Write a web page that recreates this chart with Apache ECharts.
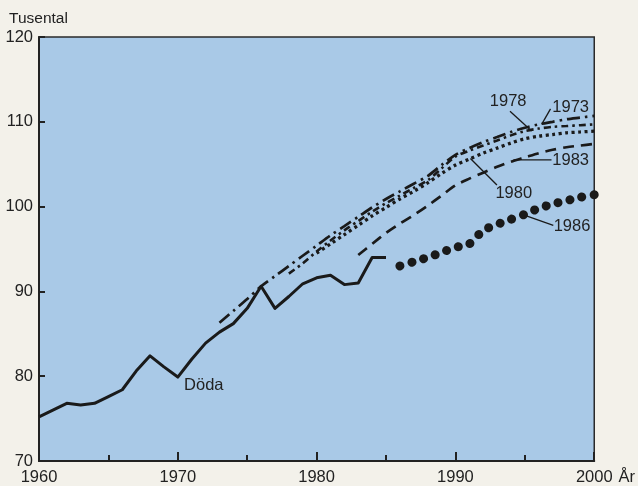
<!DOCTYPE html>
<html><head><meta charset="utf-8">
<script src="https://cdn.jsdelivr.net/npm/echarts@6/dist/echarts.min.js"></script>
<style>html,body{margin:0;padding:0;background:#f3f1ea;}#c{width:638px;height:486px;}</style>
</head><body><div id="c"></div>
<script>
// Observed deaths (Döda), thousands
const dodaYears = [1960,1961,1962,1963,1964,1965,1966,1967,1968,1969,1970,1971,1972,1973,1974,1975,1976,1977,1978,1979,1980,1981,1982,1983,1984,1985];
const dodaValues = [75.2,76.0,76.8,76.6,76.8,77.6,78.4,80.6,82.4,81.1,79.9,82.0,83.9,85.2,86.2,88.0,90.6,88.0,89.4,90.9,91.6,91.9,90.8,91.0,94.0,94.0];

// Forecasts
const f1973Years = [1973,1974,1975,1976,1977,1978,1979,1980,1981,1982,1983,1984,1985,1986,1987,1988,1989,1990,1991,1992,1993,1994,1995,1996,1997,1998,1999,2000];
const f1973Values = [86.3,87.7,89.1,90.6,91.8,93.0,94.2,95.4,96.6,97.7,98.8,99.9,100.9,101.8,102.7,103.6,104.9,106.1,106.9,107.6,108.2,108.8,109.3,109.7,110.0,110.3,110.5,110.7];

const f1978Years = [1978,1979,1980,1981,1982,1983,1984,1985,1986,1987,1988,1989,1990,1991,1992,1993,1994,1995,1996,1997,1998,1999,2000];
const f1978Values = [92.1,93.3,94.7,96.0,97.2,98.3,99.4,100.4,101.3,102.2,103.1,104.5,105.9,106.6,107.2,107.8,108.4,108.9,109.2,109.4,109.5,109.6,109.7];

const f1980Years = [1980,1981,1982,1983,1984,1985,1986,1987,1988,1989,1990,1991,1992,1993,1994,1995,1996,1997,1998,1999,2000];
const f1980Values = [94.5,95.6,96.7,97.8,98.9,99.9,100.9,101.8,102.8,103.9,104.9,105.6,106.3,106.9,107.5,108.0,108.3,108.5,108.7,108.8,108.9];

const f1983Years = [1983,1984,1985,1986,1987,1988,1989,1990,1991,1992,1993,1994,1995,1996,1997,1998,1999,2000];
const f1983Values = [94.3,95.6,96.9,98.0,99.0,100.1,101.3,102.5,103.3,104.0,104.7,105.3,105.8,106.3,106.7,107.0,107.2,107.4];

const f1986Years = [1986,1987,1988,1989,1990,1991,1992,1993,1994,1995,1996,1997,1998,1999,2000];
const f1986Values = [93.0,93.5,94.0,94.6,95.2,95.6,97.2,97.9,98.5,99.1,99.8,100.3,100.7,101.1,101.4];

// Axis ticks
const xTickLabels = [1960,1970,1980,1990,2000];
const yTickLabels = [70,80,90,100,110,120];

// Annotations (data coordinates)
const annoTexts = ['1978','1973','1983','1980','1986','Döda'];
const annoPos = [[1993.8,112.45],[1998.3,111.65],[1998.3,105.4],[1994.2,101.6],[1998.4,97.6],[1970.45,78.9]];
const annoAlign = ['center','center','center','center','center','left'];
const annoLeader = [
  [[1993.93,111.25],[1995.49,108.91]],
  [[1996.85,111.53],[1996.21,109.70]],
  [[1996.92,105.52],[1994.18,105.52]],
  [[1992.99,102.55],[1991.08,105.68]],
  [[1997.05,97.79],[1995.01,98.96]],
  null
];

const zip = (xs, ys) => xs.map((x, i) => [x, ys[i]]);
const FONT = 'Liberation Sans';
const INK = '#222';
const FS = 16.5;

const chart = echarts.init(document.getElementById('c'), null, {renderer: 'canvas'});
const option = {
  backgroundColor: '#f3f1ea',
  animation: false,
  title: {text: 'Tusental', left: 9, top: 11, padding: 0, textStyle: {fontFamily: FONT, fontSize: 15.5, fontWeight: 'normal', color: INK}},
  grid: {left: 39, right: 40, top: 37, bottom: 22, show: true, backgroundColor: '#a9c9e7', borderColor: '#2a2a2a', borderWidth: 1.5},
  xAxis: {
    type: 'value', min: xTickLabels[0], max: xTickLabels[xTickLabels.length - 1], interval: 10,
    name: 'År', nameLocation: 'end', nameGap: 20,
    nameTextStyle: {fontFamily: FONT, fontSize: FS, color: INK, verticalAlign: 'top', padding: [8, 0, 0, 0]},
    axisLine: {show: true, lineStyle: {color: '#222', width: 2}},
    axisTick: {show: true, inside: true, length: 9, lineStyle: {color: '#222', width: 2}},
    minorTick: {show: true, splitNumber: 2, length: 6, lineStyle: {color: '#222', width: 2}},
    axisLabel: {fontFamily: FONT, fontSize: FS, color: INK, margin: 8, formatter: v => String(v)},
    splitLine: {show: false}
  },
  yAxis: {
    type: 'value', min: yTickLabels[0], max: yTickLabels[yTickLabels.length - 1], interval: 10,
    axisLine: {show: true, lineStyle: {color: '#222', width: 2}},
    axisTick: {show: true, inside: true, length: 6, lineStyle: {color: '#222', width: 2}},
    axisLabel: {fontFamily: FONT, fontSize: FS, color: INK, margin: 6, padding: [6, 0, 0, 0]},
    splitLine: {show: false}
  },
  series: [
    {name: 'Döda', type: 'line', data: zip(dodaYears, dodaValues), showSymbol: false, symbol: 'none',
     lineStyle: {color: '#1a1a1a', width: 3, join: 'round'}},
    {name: '1973', type: 'line', data: zip(f1973Years, f1973Values), symbol: 'none', smooth: 0.3,
     lineStyle: {color: '#1a1a1a', width: 2.7, type: [13, 5, 2.5, 5]}},
    {name: '1978', type: 'line', data: zip(f1978Years, f1978Values), symbol: 'none', smooth: 0.3,
     lineStyle: {color: '#1a1a1a', width: 2.6, type: [7, 4, 2.5, 4]}},
    {name: '1980', type: 'line', data: zip(f1980Years, f1980Values), symbol: 'none', smooth: 0.3,
     lineStyle: {color: '#1a1a1a', width: 3.3, type: [3, 3.5]}},
    {name: '1983', type: 'line', data: zip(f1983Years, f1983Values), symbol: 'none', smooth: 0.3,
     lineStyle: {color: '#1a1a1a', width: 2.7, type: [11, 7]}},
    {name: '1986', type: 'line', data: zip(f1986Years, f1986Values), symbol: 'none', smooth: 0.2,
     lineStyle: {color: '#1a1a1a', width: 9, cap: 'round', type: [0.1, 12.2]}}
  ]
};
chart.setOption(option);

const g = [];
annoTexts.forEach((t, i) => {
  const p = chart.convertToPixel({gridIndex: 0}, annoPos[i]);
  g.push({type: 'text', x: p[0], y: p[1], z: 100,
    style: {text: t, fontFamily: FONT, fontSize: FS, fill: INK, align: annoAlign[i], verticalAlign: 'middle'}});
  if (annoLeader[i]) {
    const a = chart.convertToPixel({gridIndex: 0}, annoLeader[i][0]);
    const b = chart.convertToPixel({gridIndex: 0}, annoLeader[i][1]);
    g.push({type: 'line', z: 100, shape: {x1: a[0], y1: a[1], x2: b[0], y2: b[1]},
      style: {stroke: '#1a1a1a', lineWidth: 1.3}});
  }
});
chart.setOption({graphic: g});
</script>
</body></html>
